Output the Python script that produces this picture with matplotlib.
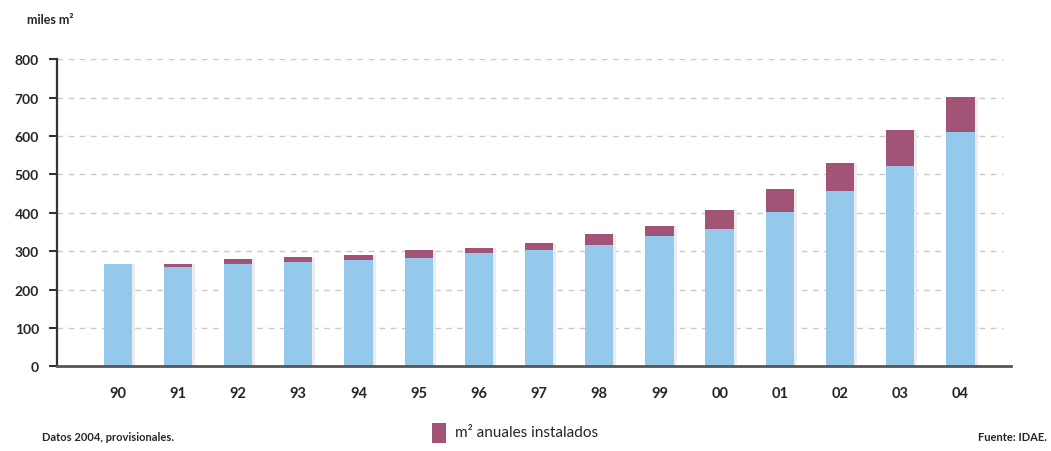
import matplotlib.pyplot as plt
import numpy as np
from matplotlib.patches import Rectangle

years = ["90", "91", "92", "93", "94", "95", "96", "97", "98", "99", "00", "01", "02", "03", "04"]
# superficie acumulada del año anterior (miles m²)
acumulado = [266, 260, 266, 271, 278, 283, 296, 302, 315, 339, 357, 401, 457, 523, 610]
# m² anuales instalados (miles)
anuales = [0, 7, 13, 14, 13, 20, 13, 20, 31, 26, 50, 62, 73, 92, 92]
yticks = [0, 100, 200, 300, 400, 500, 600, 700, 800]

blue = "#94c9ec"
magenta = "#a25476"
text_color = "#262626"
plt.rcParams["font.family"] = ["Lato", "DejaVu Sans"]

fig = plt.figure(figsize=(10.51, 4.52), dpi=100)
ax = fig.add_axes([0.0542, 0.187, 0.9077, 0.680])

x = np.arange(len(years))
width = 0.47
totals = np.array(acumulado) + np.array(anuales)

# sombra suave a la derecha de cada barra
ax.bar(x + 0.05, totals, width=width, color="#ececf0", zorder=1, linewidth=0)
ax.bar(x, acumulado, width=width, color=blue, zorder=2, linewidth=0)
ax.bar(x, anuales, width=width, bottom=acumulado, color=magenta, zorder=2, linewidth=0)

ax.set_xlim(-1.01, 14.84)
ax.set_ylim(0, 800)
ax.set_yticks(yticks)
ax.set_xticks(x)
ax.set_xticklabels(years)

for v in yticks[1:]:
    ax.plot([-1.01, 14.7], [v, v], color="#c9c9cc", lw=1.0, dashes=(4, 4), zorder=0)

for s in ["top", "right"]:
    ax.spines[s].set_visible(False)
ax.spines["left"].set_color("#333333")
ax.spines["bottom"].set_color("#555555")
ax.spines["left"].set_linewidth(1.6)
ax.spines["bottom"].set_linewidth(2.0)
ax.tick_params(axis="y", length=6, width=1.5, color="#333333", labelsize=10,
               labelcolor=text_color, pad=7)
ax.tick_params(axis="x", length=0, labelsize=10.5, labelcolor=text_color, pad=14)
for lab in ax.get_yticklabels() + ax.get_xticklabels():
    lab.set_fontweight("bold")

fig.text(0.026, 0.955, "miles m²", fontsize=9, color=text_color, fontweight="bold",
         va="center", ha="left")
fig.text(0.040, 0.032, "Datos 2004, provisionales.", fontsize=8, color=text_color,
         fontweight="bold", va="center", ha="left")
fig.text(0.996, 0.032, "Fuente: IDAE.", fontsize=8, color=text_color,
         fontweight="bold", va="center", ha="right")

fig.patches.append(Rectangle((0.411, 0.017), 0.0133, 0.044, transform=fig.transFigure,
                             facecolor=magenta, edgecolor="none"))
fig.text(0.433, 0.041, "m² anuales instalados", fontsize=11, color=text_color,
         va="center", ha="left")

fig.savefig("out.png", dpi=100)
